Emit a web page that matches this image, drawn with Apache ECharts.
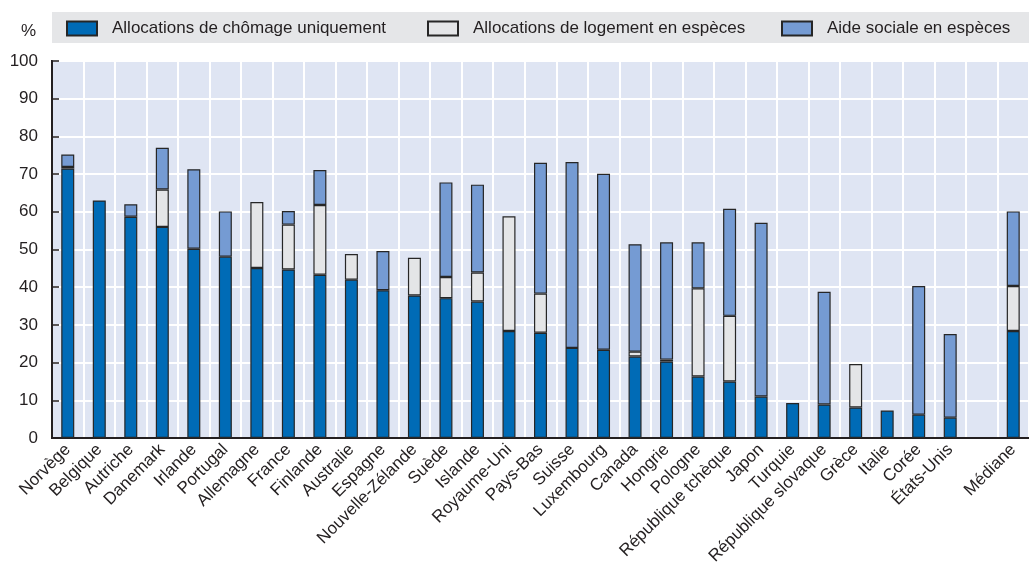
<!DOCTYPE html>
<html>
<head>
<meta charset="utf-8">
<script src="https://cdn.jsdelivr.net/npm/echarts@6/dist/echarts.min.js"></script>
<style>
  html, body { margin: 0; padding: 0; background: #fff; }
  #chart { width: 1029px; height: 568px; }
</style>
</head>
<body>
<div id="chart"></div>
<script>
var categories = ['Norvège', 'Belgique', 'Autriche', 'Danemark', 'Irlande', 'Portugal', 'Allemagne', 'France',
  'Finlande', 'Australie', 'Espagne', 'Nouvelle-Zélande', 'Suède', 'Islande', 'Royaume-Uni', 'Pays-Bas',
  'Suisse', 'Luxembourg', 'Canada', 'Hongrie', 'Pologne', 'République tchèque', 'Japon', 'Turquie',
  'République slovaque', 'Grèce', 'Italie', 'Corée', 'États-Unis', '', 'Médiane'];

// % of people
var chomage = [71.5, 63, 58.7, 56, 50.2, 48.1, 45.1, 44.7, 43.3, 42, 39.2, 37.8, 37.1, 36.2, 28.4, 27.9,
  23.9, 23.4, 21.6, 20.3, 16.3, 15, 11, 9.3, 8.9, 8.1, 7.3, 6.2, 5.4, 0, 28.4];
var logement = [0.4, 0, 0, 9.9, 0, 0, 17.5, 11.9, 18.5, 6.8, 0, 10, 5.6, 7.7, 30.4, 10.4,
  0, 0, 1.3, 0.5, 23.4, 17.4, 0, 0, 0, 11.5, 0, 0, 0, 0, 11.9];
var aideSociale = [3.3, 0, 3.3, 11.1, 21.1, 12, 0, 3.6, 9.3, 0, 10.4, 0, 25.1, 23.3, 0, 34.7,
  49.3, 46.7, 28.5, 31.1, 12.2, 28.4, 46.1, 0, 29.9, 0, 0, 34.1, 22.2, 0, 19.8];
var yTicks = [0, 10, 20, 30, 40, 50, 60, 70, 80, 90, 100];

var FONT = "'Liberation Sans', Arial, sans-serif";
var TXT = '#231f20';

function clean(arr) {
  return arr.map(function (v) { return v === 0 ? '-' : v; });
}

function makeSeries(name, data, color) {
  return {
    name: name,
    type: 'bar',
    stack: 'total',
    barWidth: 13,
    data: clean(data),
    itemStyle: { color: color, borderColor: '#262626', borderWidth: 1.2 },
    emphasis: { disabled: true }
  };
}

function makeLegend(name, left) {
  return {
    data: [name],
    left: left,
    top: 20,
    padding: 0,
    itemWidth: 30,
    itemHeight: 14,
    icon: 'rect',
    selectedMode: false,
    textStyle: { fontFamily: FONT, fontSize: 17, color: TXT, padding: [0, 0, 0, 10] }
  };
}

var chart = echarts.init(document.getElementById('chart'));
var option = {
  animation: false,
  textStyle: { fontFamily: FONT },
  graphic: [
    { type: 'rect', left: 52, top: 12, shape: { width: 977, height: 31 }, style: { fill: '#e5e6e8' }, z: -1 },
    { type: 'text', left: 21, top: 23, style: { text: '%', font: '17px ' + FONT, fill: TXT } }
  ],
  legend: [
    makeLegend('Allocations de chômage uniquement', 66),
    makeLegend('Allocations de logement en espèces', 427),
    makeLegend('Aide sociale en espèces', 781)
  ],
  grid: {
    left: 52, top: 61, width: 980, height: 377,
    show: true, backgroundColor: '#dfe5f3',
    borderColor: '#231f20', borderWidth: 2
  },
  xAxis: {
    type: 'category',
    data: categories,
    boundaryGap: true,
    axisLine: { lineStyle: { color: '#231f20', width: 2 } },
    axisTick: { inside: true, length: 7, lineStyle: { color: '#231f20', width: 1.5 } },
    splitLine: { show: true, lineStyle: { color: '#ffffff', width: 2 } },
    axisLabel: { rotate: 45, interval: 0, fontSize: 17, color: TXT, margin: 9, fontFamily: FONT }
  },
  yAxis: {
    type: 'value',
    min: yTicks[0],
    max: yTicks[yTicks.length - 1],
    interval: 10,
    axisLine: { show: true, lineStyle: { color: '#231f20', width: 2 } },
    axisTick: { show: true, inside: true, length: 7, lineStyle: { color: '#231f20', width: 1.5 } },
    splitLine: { show: true, lineStyle: { color: '#ffffff', width: 2 } },
    axisLabel: { fontSize: 17, color: TXT, margin: 14, fontFamily: FONT }
  },
  series: [
    makeSeries('Allocations de chômage uniquement', chomage, '#006bb6'),
    makeSeries('Allocations de logement en espèces', logement, '#e4e5e7'),
    makeSeries('Aide sociale en espèces', aideSociale, '#759bd3')
  ]
};
chart.setOption(option);
</script>
</body>
</html>
